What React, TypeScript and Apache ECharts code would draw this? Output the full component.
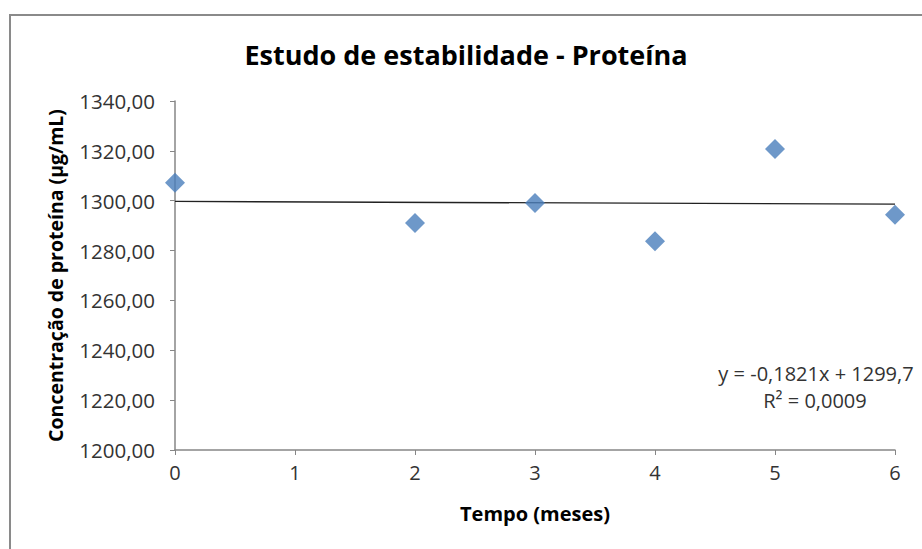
import React, { useEffect, useRef } from "react";
import * as echarts from "echarts";

const months = [0, 2, 3, 4, 5, 6];
const protein = [1307.2, 1291.1, 1299.1, 1283.7, 1320.7, 1294.4];
const trendSlope = -0.1821;
const trendIntercept = 1299.7;
const trendRange = [0, 6];
const equationLines = ["y = -0,1821x + 1299,7", "R² = 0,0009"];

const FONT = "'Open Sans', 'Noto Sans', sans-serif";

export default function App() {
  const ref = useRef<HTMLDivElement>(null);
  useEffect(() => {
    if (!ref.current) return;
    const chart = echarts.init(ref.current, undefined, { renderer: "svg" });
    const points = months.map((m, i) => [m, protein[i]]);
    const trend = trendRange.map((x) => [x, trendIntercept + trendSlope * x]);
    chart.setOption({
      animation: false,
      backgroundColor: "#ffffff",
      title: {
        text: "Estudo de estabilidade - Proteína",
        left: 461,
        top: 36,
        textAlign: "center",
        textStyle: { fontFamily: FONT, fontSize: 27, fontWeight: "bold", color: "#000" },
      },
      grid: { left: 175, right: 27, top: 101, bottom: 99 },
      xAxis: {
        type: "value",
        min: 0,
        max: 6,
        interval: 1,
        name: "Tempo (meses)",
        nameLocation: "middle",
        nameGap: 53,
        nameTextStyle: { fontFamily: FONT, fontSize: 20, fontWeight: "bold", color: "#000" },
        axisLine: { show: true, lineStyle: { color: "#868686", width: 1.5 } },
        axisTick: { show: true, length: 5, lineStyle: { color: "#868686" } },
        axisLabel: { fontFamily: FONT, fontSize: 20, color: "#333", margin: 12 },
        splitLine: { show: false },
      },
      yAxis: {
        type: "value",
        min: 1200,
        max: 1340,
        interval: 20,
        name: "Concentração de proteína (µg/mL)",
        nameLocation: "middle",
        nameGap: 110,
        nameTextStyle: { fontFamily: FONT, fontSize: 19.5, fontWeight: "bold", color: "#000" },
        axisLine: { show: true, lineStyle: { color: "#868686", width: 1.5 } },
        axisTick: { show: true, length: 5, lineStyle: { color: "#868686" } },
        axisLabel: {
          fontFamily: FONT,
          fontSize: 20.5,
          color: "#333",
          margin: 20,
          formatter: (v: number) => v.toFixed(2).replace(".", ","),
        },
        splitLine: { show: false },
      },
      graphic: [
        {
          type: "rect",
          shape: { x: 10, y: 15, width: 960, height: 600 },
          style: { fill: "none", stroke: "#8a8a8a", lineWidth: 2 },
          silent: true,
        },
        {
          type: "text",
          x: 816,
          y: 373,
          style: {
            text: equationLines[0],
            fontFamily: FONT,
            fontSize: 20,
            fill: "#333",
            align: "center",
            verticalAlign: "middle",
          },
        },
        {
          type: "text",
          x: 815,
          y: 400,
          style: {
            text: equationLines[1],
            fontFamily: FONT,
            fontSize: 20,
            fill: "#333",
            align: "center",
            verticalAlign: "middle",
          },
        },
      ],
      series: [
        {
          type: "line",
          data: trend,
          symbol: "none",
          lineStyle: { color: "#222", width: 1.3 },
          z: 1,
        },
        {
          type: "scatter",
          data: points,
          symbol: "diamond",
          symbolSize: [20, 20],
          itemStyle: { color: "#4a7ebb" },
          z: 3,
        },
      ],
    });
    return () => chart.dispose();
  }, []);
  return (
    <div
      ref={ref}
      style={{ position: "fixed", left: 0, top: 0, width: 922, height: 549 }}
    />
  );
}
